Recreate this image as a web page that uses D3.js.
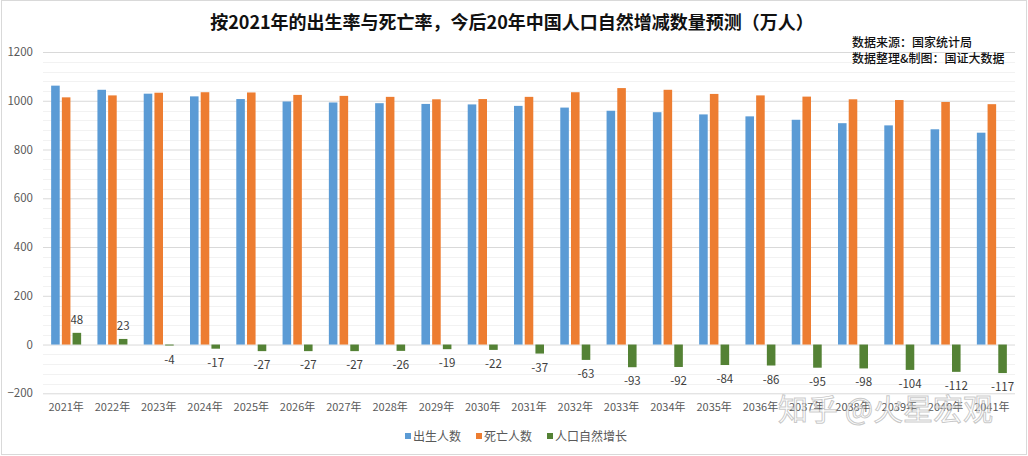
<!DOCTYPE html>
<html>
<head>
<meta charset="utf-8">
<script src="https://cdn.jsdelivr.net/npm/d3@7"></script>
<style>
  html, body { margin: 0; padding: 0; background: #fff; }
  svg { display: block; font-family: "Microsoft YaHei", "Noto Sans CJK SC", sans-serif; }
</style>
</head>
<body>
<svg id="chart" width="1028" height="456"></svg>
<script>
const categories = ["2021年","2022年","2023年","2024年","2025年","2026年","2027年","2028年","2029年","2030年","2031年","2032年","2033年","2034年","2035年","2036年","2037年","2038年","2039年","2040年","2041年"];
const births = [1062, 1045, 1029, 1018, 1007, 997, 993, 990, 987, 985, 979, 972, 959, 953, 944, 936, 922, 908, 899, 883, 869];
const deaths = [1014, 1022, 1033, 1035, 1034, 1024, 1020, 1016, 1006, 1007, 1016, 1035, 1052, 1045, 1028, 1022, 1017, 1006, 1003, 995, 986];
const growth = [48, 23, -4, -17, -27, -27, -27, -26, -19, -22, -37, -63, -93, -92, -84, -86, -95, -98, -104, -112, -117];
const seriesNames = ["出生人数", "死亡人数", "人口自然增长"];
const colors = ["#5b9bd5", "#ed7d31", "#548235"];
const yTicks = [-200, 0, 200, 400, 600, 800, 1000, 1200];
const title = "按2021年的出生率与死亡率，今后20年中国人口自然增减数量预测（万人）";
const sourceLines = ["数据来源：国家统计局", "数据整理&制图：国证大数据"];

const svg = d3.select("#chart");
const W = 1028, H = 456;
const plot = {left: 43, right: 1015, top: 52, bottom: 393.3};

// outer border
svg.append("rect").attr("x", 1.5).attr("y", 0.5).attr("width", W - 3).attr("height", H - 2)
  .attr("fill", "#fff").attr("stroke", "#d9d9d9");

const x = d3.scaleBand().domain(categories).range([plot.left, plot.right]).paddingInner(0).paddingOuter(0);
const y = d3.scaleLinear().domain([-200, 1200]).range([plot.bottom, plot.top]);
const sub = d3.scaleBand().domain(seriesNames).range([-15, 15]).paddingInner(0.2).paddingOuter(0);

// minor gridlines
const minor = d3.range(-200, 1201, 40).filter(v => v % 200 !== 0);
svg.append("g").selectAll("line").data(minor).join("line")
  .attr("x1", plot.left).attr("x2", plot.right)
  .attr("y1", d => Math.round(y(d)) + 0.5).attr("y2", d => Math.round(y(d)) + 0.5)
  .attr("stroke", "#f2f2f2").attr("stroke-width", 1);

// major gridlines via axis
const yAxis = d3.axisLeft(y).tickValues(yTicks).tickSize(-(plot.right - plot.left)).tickPadding(10).tickFormat(d3.format("d"));
const gy = svg.append("g").attr("transform", `translate(${plot.left},0)`).call(yAxis);
gy.select(".domain").remove();
gy.selectAll(".tick line").attr("stroke", "#d9d9d9");
gy.selectAll(".tick text").attr("fill", "#595959").attr("font-size", "11.5px")
  .attr("font-family", "'Microsoft YaHei','Noto Sans CJK SC',sans-serif");

// bars
const all = [births, deaths, growth];
all.forEach((arr, si) => {
  svg.append("g").selectAll("rect").data(arr).join("rect")
    .attr("x", (d, i) => x(categories[i]) + x.bandwidth() / 2 + sub(seriesNames[si]))
    .attr("width", sub.bandwidth())
    .attr("y", d => Math.min(y(d), y(0)))
    .attr("height", d => Math.abs(y(d) - y(0)))
    .attr("fill", colors[si]);
});

// growth data labels
svg.append("g").selectAll("text").data(growth).join("text")
  .attr("x", (d, i) => x(categories[i]) + x.bandwidth() / 2 + sub(seriesNames[2]) + sub.bandwidth() / 2)
  .attr("y", d => d >= 0 ? y(d) - 9 : y(d) + 18)
  .attr("text-anchor", "middle")
  .attr("fill", "#404040").attr("font-size", "11.5px")
  .text(d => d);

// x axis labels
const xAxis = d3.axisBottom(x).tickSize(0).tickPadding(10);
const gx = svg.append("g").attr("transform", `translate(0,${plot.bottom})`).call(xAxis);
gx.select(".domain").remove();
gx.selectAll(".tick text").attr("fill", "#595959").attr("font-size", "11px")
  .attr("font-family", "'Microsoft YaHei','Noto Sans CJK SC',sans-serif");

// title
svg.append("text").attr("x", 512).attr("y", 29).attr("text-anchor", "middle")
  .attr("font-size", "18px").attr("font-weight", "bold").attr("fill", "#111").text(title);

// source text
svg.append("g").selectAll("text").data(sourceLines).join("text")
  .attr("x", 852).attr("y", (d, i) => 47 + i * 16)
  .attr("font-size", "12px").attr("font-weight", "500").attr("fill", "#111").text(d => d);

// legend
const legendX = [405, 476, 547];
const lg = svg.append("g");
seriesNames.forEach((n, i) => {
  lg.append("rect").attr("x", legendX[i]).attr("y", 433).attr("width", 6).attr("height", 6).attr("fill", colors[i]);
  lg.append("text").attr("x", legendX[i] + 8).attr("y", 441).attr("font-size", "12px").attr("fill", "#595959").text(n);
});

// watermark
svg.append("text").attr("x", 778).attr("y", 420).attr("font-size", "30px")
  .attr("fill", "#ffffff").attr("fill-opacity", 0.6).attr("stroke", "#9a9a9a").attr("stroke-opacity", 0.55).attr("stroke-width", 1)
  .text("知乎 @火星宏观");
</script>
</body>
</html>
